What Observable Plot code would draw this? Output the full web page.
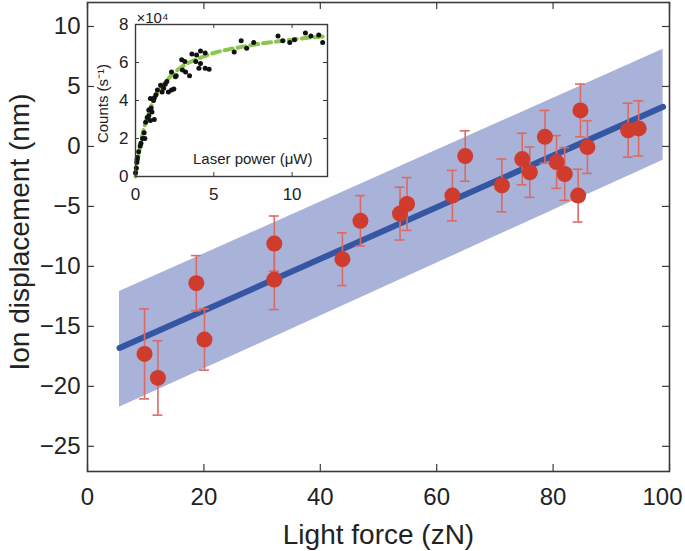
<!DOCTYPE html>
<html>
<head>
<meta charset="utf-8">
<script src="https://cdn.jsdelivr.net/npm/d3@7"></script>
<script src="https://cdn.jsdelivr.net/npm/@observablehq/plot@0.6"></script>
<style>
  body { margin: 0; background: white; }
  #chart { position: relative; width: 685px; height: 551px; }
  #inset { position: absolute; left: 90px; top: 0px; }
</style>
</head>
<body>
<div id="chart"><div id="inset"></div></div>
<script>
// main panel: measured points
const force = [9.8, 12.1, 18.7, 20.1, 32.1, 32.1, 43.8, 46.9, 53.7, 54.9, 62.7, 64.9, 71.2, 74.7, 76.0, 78.6, 80.6, 82.0, 84.3, 84.7, 85.9, 92.9, 94.7]
const displacement = [-17.3, -19.3, -11.4, -16.1, -8.1, -11.1, -9.4, -6.2, -5.6, -4.8, -4.1, -0.8, -3.25, -1.05, -2.15, 0.8, -1.3, -2.3, -4.1, 3.0, -0.05, 1.35, 1.5]
const dispErr = [3.75, 3.1, 2.3, 2.55, 2.3, 2.5, 2.2, 2.1, 2.2, 2.2, 2.1, 2.1, 2.2, 2.15, 2.1, 2.2, 2.2, 2.2, 2.2, 2.2, 2.2, 2.25, 2.3]

// fit line and confidence band
const fitX = [5.5, 98.9]
const fitY = [-16.8, 3.3]
const bandLow = [-21.75, -1.15]
const bandHigh = [-12.1, 8.1]

const xTicks = [0, 20, 40, 60, 80, 100]
const yTicks = [-25, -20, -15, -10, -5, 0, 5, 10]

// inset: counts vs laser power (counts in 1e4 s^-1)
const power = [0.0, 0.05, 0.08, 0.1, 0.12, 0.2, 0.3, 0.35, 0.45, 0.55, 0.6, 0.65, 0.75, 0.85, 0.95, 1.2, 0.85, 1.05, 0.95, 1.15, 1.2, 1.4, 1.6, 1.7, 1.8, 2.0, 2.1, 2.3, 2.45, 2.3, 2.55, 2.95, 3.15, 3.2, 3.45, 3.6, 3.85, 3.9, 4.05, 4.15, 4.15, 4.45, 4.45, 4.7, 1.0, 1.3, 1.9, 2.6, 3.0, 6.3, 6.75, 7.1, 7.55, 9.1, 9.4, 9.85, 10.15, 10.85, 11.2, 11.7, 11.95]
const counts = [0.2, 0.45, 0.75, 0.9, 1.0, 1.3, 1.6, 1.75, 2.0, 2.3, 2.0, 2.85, 3.1, 3.2, 2.95, 3.0, 3.5, 3.4, 4.1, 4.0, 4.15, 4.55, 4.8, 4.45, 4.65, 5.0, 4.45, 4.55, 4.6, 5.5, 5.25, 6.15, 6.05, 5.5, 5.3, 6.45, 6.05, 6.4, 5.7, 6.6, 5.95, 6.5, 5.7, 5.65, 3.6, 4.3, 4.85, 5.3, 5.6, 6.55, 7.15, 6.75, 7.05, 7.4, 7.15, 7.05, 7.2, 7.55, 7.4, 7.45, 7.05]
const curvePower = [0, 0.1, 0.25, 0.5, 1, 1.5, 2, 3, 4, 5, 6, 7, 8, 9, 10, 11, 12.26]
const curveCounts = [0, 0.6, 1.4, 2.4, 3.7, 4.5, 5.05, 5.8, 6.2, 6.5, 6.7, 6.85, 7.0, 7.1, 7.2, 7.3, 7.38]
const insetXTicks = [0, 5, 10]
const insetYTicks = [0, 2, 4, 6, 8]

const points = force.map((f, i) => ({force: f, disp: displacement[i], err: dispErr[i]}))
const fit = fitX.map((f, i) => ({force: f, y: fitY[i], lo: bandLow[i], hi: bandHigh[i]}))
const scatter = power.map((p, i) => ({p, c: counts[i]}))
const curve = curvePower.map((p, i) => ({p, c: curveCounts[i]}))

const W = 685, H = 551
const mL = 87, mR = 16, mT = 2, mB = 80
const pw = W - mL - mR, ph = H - mT - mB
const axisColor = '#3a3a3a'
const font = '"Liberation Sans", Arial, sans-serif'

let chart = Plot.plot({
  width: W,
  height: H,
  marginLeft: mL,
  marginRight: mR,
  marginTop: mT,
  marginBottom: mB,
  x: {domain: [0, 100], label: null},
  y: {domain: [-27.1, 12], label: null},
  style: {fontFamily: font, fontSize: '24px', color: '#222', background: 'white'},
  marks: [
    Plot.areaY(fit, {x: 'force', y1: 'lo', y2: 'hi', fill: '#a9b2d9'}),
    Plot.line(fit, {x: 'force', y: 'y', stroke: '#3556a3', strokeWidth: 6}),
    Plot.ruleX(points, {x: 'force', y1: d => d.disp - d.err, y2: d => d.disp + d.err, stroke: '#dc6a62', strokeWidth: 1.6}),
    Plot.ruleY(points, {y: d => d.disp + d.err, x1: d => d.force - 0.85, x2: d => d.force + 0.85, stroke: '#dc6a62', strokeWidth: 1.6}),
    Plot.ruleY(points, {y: d => d.disp - d.err, x1: d => d.force - 0.85, x2: d => d.force + 0.85, stroke: '#dc6a62', strokeWidth: 1.6}),
    Plot.dot(points, {x: 'force', y: 'disp', r: 8, fill: '#cf3b2c'}),
    // inward ticks on all four sides
    Plot.ruleX(xTicks, {x: d => d, insetTop: ph - 7, stroke: axisColor, strokeWidth: 1.2}),
    Plot.ruleX(xTicks, {x: d => d, insetBottom: ph - 7, stroke: axisColor, strokeWidth: 1.2}),
    Plot.ruleY(yTicks, {y: d => d, insetRight: pw - 7, stroke: axisColor, strokeWidth: 1.2}),
    Plot.ruleY(yTicks, {y: d => d, insetLeft: pw - 7, stroke: axisColor, strokeWidth: 1.2}),
    Plot.frame({stroke: axisColor, strokeWidth: 1.6}),
    Plot.axisX({ticks: xTicks.slice(0, -1), tickSize: 0, tickPadding: 16, label: null}),
    Plot.axisX({ticks: xTicks.slice(-1), tickSize: 0, tickPadding: 16, dx: -7, label: null}),
    Plot.axisY({ticks: yTicks, tickSize: 0, tickPadding: 7, label: null}),
    Plot.text(['Light force (zN)'], {frameAnchor: 'bottom', textAnchor: 'middle', lineAnchor: 'middle', dy: 64, fontSize: 28, fill: '#222'}),
    Plot.text(['Ion displacement (nm)'], {frameAnchor: 'left', textAnchor: 'middle', lineAnchor: 'middle', dx: -67, dy: -5, rotate: -90, fontSize: 28, fill: '#222'})
  ]
})

d3.select('#chart').insert(() => chart, '#inset')

// inset panel
const iW = 250, iH = 205
const iL = 45, iR = 13, iT = 24, iB = 29
const ipw = iW - iL - iR, iph = iH - iT - iB

let inset = Plot.plot({
  width: iW,
  height: iH,
  marginLeft: iL,
  marginRight: iR,
  marginTop: iT,
  marginBottom: iB,
  x: {domain: [0, 12.26], label: null},
  y: {domain: [0, 8], label: null},
  style: {fontFamily: font, fontSize: '17px', color: '#222', background: 'transparent', overflow: 'visible'},
  marks: [
    Plot.frame({fill: 'white'}),
    Plot.line(curve, {x: 'p', y: 'c', stroke: '#8cc44e', strokeWidth: 4, strokeDasharray: '8,5', curve: 'monotone-x'}),
    Plot.dot(scatter, {x: 'p', y: 'c', r: 2.5, fill: '#111'}),
    Plot.ruleX(insetXTicks, {x: d => d, insetTop: iph - 4, stroke: axisColor}),
    Plot.ruleX(insetXTicks, {x: d => d, insetBottom: iph - 4, stroke: axisColor}),
    Plot.ruleY(insetYTicks, {y: d => d, insetRight: ipw - 4, stroke: axisColor}),
    Plot.ruleY(insetYTicks, {y: d => d, insetLeft: ipw - 4, stroke: axisColor}),
    Plot.frame({stroke: axisColor, strokeWidth: 1.4}),
    Plot.axisX({ticks: insetXTicks, tickSize: 0, tickPadding: 11, label: null}),
    Plot.axisY({ticks: insetYTicks, tickSize: 0, tickPadding: 7, label: null}),
    Plot.text(['×10⁴'], {frameAnchor: 'top-left', textAnchor: 'start', dx: 1, dy: -12, fontSize: 15, fill: '#222'}),
    Plot.text(['Laser power (μW)'], {frameAnchor: 'bottom-right', textAnchor: 'end', dx: -15, dy: -13, fontSize: 15, fill: '#222'}),
    Plot.text(['Counts (s⁻¹)'], {frameAnchor: 'left', textAnchor: 'middle', lineAnchor: 'middle', dx: -32, dy: 3, rotate: -90, fontSize: 15, fill: '#222'})
  ]
})

d3.select('#inset').append(() => inset)
</script>
</body>
</html>
